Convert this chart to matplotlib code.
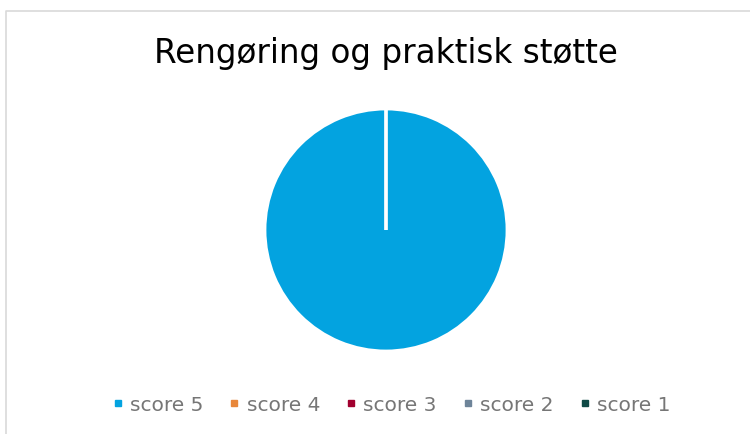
import matplotlib
matplotlib.use("Agg")
import matplotlib.pyplot as plt
from matplotlib.lines import Line2D

title = "Rengøring og praktisk støtte"
categories = ["score 5", "score 4", "score 3", "score 2", "score 1"]
values = [100, 0, 0, 0, 0]
colors = ["#03A3E0", "#E8873A", "#A1002F", "#6E8499", "#0F4A46"]

plt.rcParams['font.family'] = ['DejaVu Sans']

W, H = 750, 435
fig = plt.figure(figsize=(W / 100, H / 100), dpi=100)
fig.patch.set_facecolor("white")

# border frame (left and top visible)
fig.add_artist(Line2D([5.5 / W, 5.5 / W, 1.0], [0.0, 1 - 11.5 / H, 1 - 11.5 / H],
                      transform=fig.transFigure, color="#d9d9d9", lw=1.2))

cx, cy, r = 386, 231, 121
ax = fig.add_axes([(cx - r) / W, 1 - (cy + r) / H, 2 * r / W, 2 * r / H])
ax.pie(values, colors=colors, startangle=90, counterclock=False, radius=1,
       wedgeprops=dict(edgecolor="white", linewidth=2))
ax.set_xlim(-1, 1)
ax.set_ylim(-1, 1)
ax.set_aspect("auto")
ax.axis("off")

fig.text(386 / W, 1 - 63 / H, title, ha="center", va="baseline", fontsize=23.5, color="#000000")

handles = [Line2D([], [], marker="s", linestyle="none", markersize=4.8,
                  markerfacecolor=c, markeredgecolor=c) for c in colors]
fig.legend(handles, categories, loc="center", bbox_to_anchor=(391 / W, 1 - 406 / H),
           ncol=5, frameon=False, fontsize=14.5, labelcolor="#767676",
           handlelength=0.6, handletextpad=0.3, columnspacing=1.25,
           borderpad=0, borderaxespad=0)

fig.savefig("out.png", dpi=100)
